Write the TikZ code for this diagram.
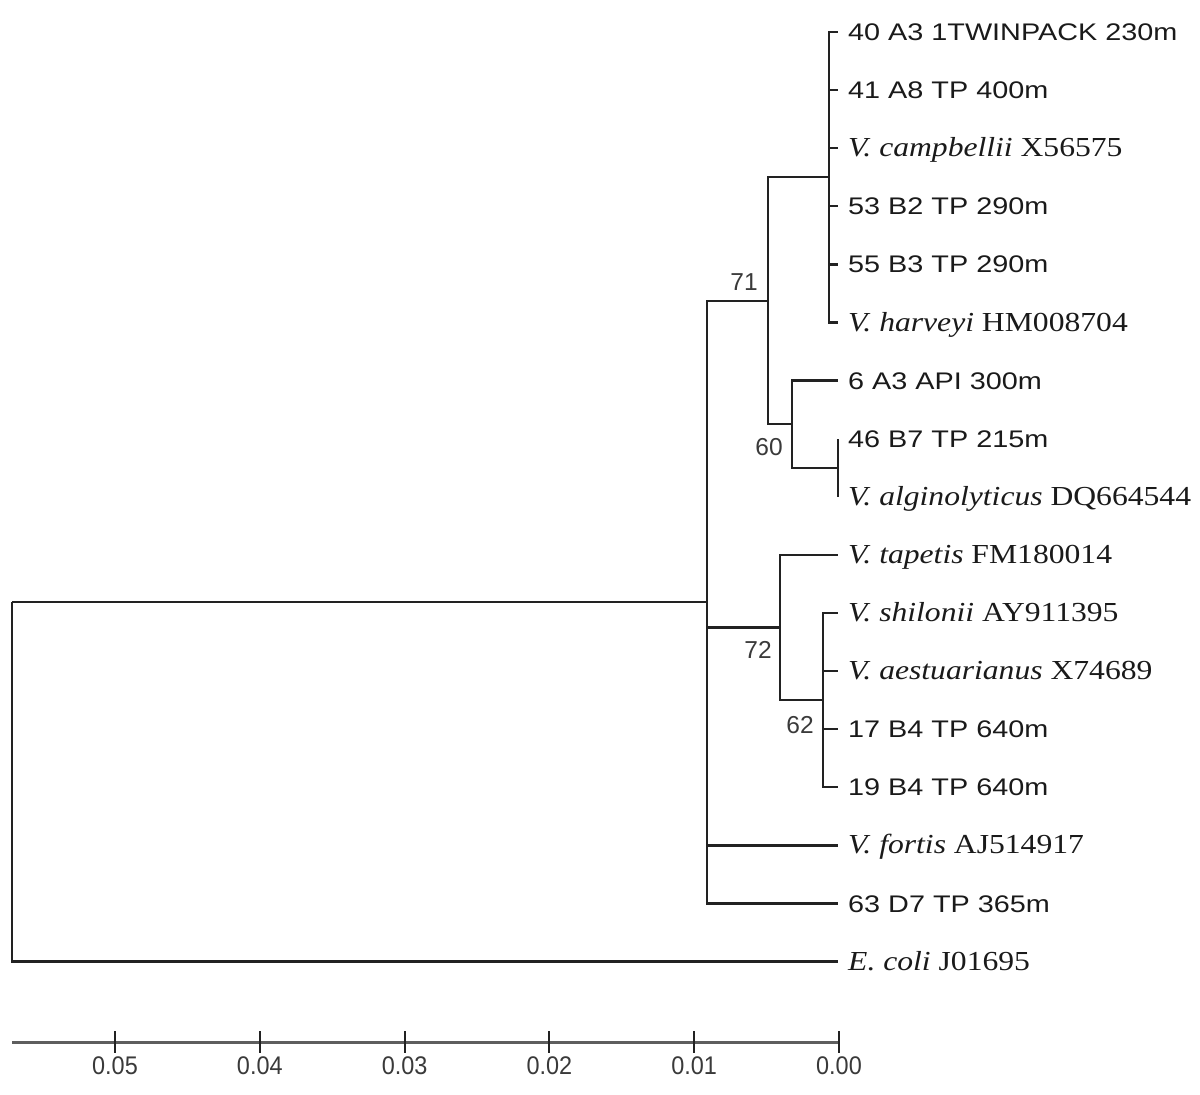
\documentclass[tikz,border=0pt]{standalone}
\usepackage{fontspec}
\usepackage{graphicx}
\setmainfont{Liberation Serif}
\newfontfamily\sansf{Liberation Sans}
\newfontfamily\seriff{Liberation Serif}
\definecolor{treeline}{HTML}{222222}
\definecolor{labcol}{HTML}{1A1A1A}
\definecolor{axiscol}{HTML}{5E5E5E}
\definecolor{axtext}{HTML}{3A3A3A}
\newcommand{\leafS}[1]{\scalebox{1.2}[1]{\sansf\fontsize{24}{28}\selectfont #1}}
\newcommand{\leafV}[2]{\scalebox{1.15}[1]{\seriff\fontsize{27.5}{32}\selectfont\textit{#1} #2}}
\begin{document}
\begin{tikzpicture}[x=1pt,y=-1pt,
  branch/.style={draw=treeline, line width=2.3pt, line join=miter},
  leaflab/.style={anchor=base west, inner sep=0pt, text=labcol},
  bootlab/.style={inner sep=0pt, text=axtext, font=\sansf\fontsize{24.5}{28}\selectfont},
  axisline/.style={draw=axiscol, line width=3pt},
  axislab/.style={inner sep=0pt, text=axtext, font=\sansf\fontsize{25.5}{28}\selectfont}]
\useasboundingbox (0,0) rectangle (1200,1095);
\fill[white] (0,0) rectangle (1200,1095);

% leaf tips
\foreach \i/\yy in {1/32,2/90.1,3/148.2,4/206.3,5/264.4,6/322.5,7/380.6,8/438.7,9/496.8,10/554.9,11/613,12/671.1,13/729.2,14/787.3,15/845.4,16/903.5,17/961.6}{
  \coordinate (t\i) at (838,\yy);
}

% leaf labels (baseline = tip y + 8.5)
\node[leaflab] (l1)  at (848,40.5)  {\leafS{40 A3 1TWINPACK 230m}};
\node[leaflab] (l2)  at (848,98.6)  {\leafS{41 A8 TP 400m}};
\node[leaflab] (l3)  at (848,156.7) {\leafV{V. campbellii}{X56575}};
\node[leaflab] (l4)  at (848,214.8) {\leafS{53 B2 TP 290m}};
\node[leaflab] (l5)  at (848,272.9) {\leafS{55 B3 TP 290m}};
\node[leaflab] (l6)  at (848,331)   {\leafV{V. harveyi}{HM008704}};
\node[leaflab] (l7)  at (848,389.1) {\leafS{6 A3 API 300m}};
\node[leaflab] (l8)  at (848,447.2) {\leafS{46 B7 TP 215m}};
\node[leaflab] (l9)  at (848,505.3) {\leafV{V. alginolyticus}{DQ664544}};
\node[leaflab] (l10) at (848,563.4) {\leafV{V. tapetis}{FM180014}};
\node[leaflab] (l11) at (848,621.5) {\leafV{V. shilonii}{AY911395}};
\node[leaflab] (l12) at (848,679.6) {\leafV{V. aestuarianus}{X74689}};
\node[leaflab] (l13) at (848,737.7) {\leafS{17 B4 TP 640m}};
\node[leaflab] (l14) at (848,795.8) {\leafS{19 B4 TP 640m}};
\node[leaflab] (l15) at (848,853.9) {\leafV{V. fortis}{AJ514917}};
\node[leaflab] (l16) at (848,912)   {\leafS{63 D7 TP 365m}};
\node[leaflab] (l17) at (848,970.1) {\leafV{E. coli}{J01695}};

% internal nodes
\coordinate (cA)   at (829,177.2);
\coordinate (cB)   at (838,467.7);
\coordinate (n60)  at (792,424.2);
\coordinate (n71)  at (768,300.7);
\coordinate (c62)  at (823,700.2);
\coordinate (n72)  at (780,627.5);
\coordinate (nin)  at (707,602.1);
\coordinate (root) at (12,602.1);

% branches
\foreach \i in {1,...,6}{ \draw[branch] (cA) |- (t\i); }
\draw[branch] (n71) |- (cA);
\draw[branch] (n71) |- (n60);
\draw[branch] (n60) |- (t7);
\draw[branch] (n60) |- (cB);
\draw[branch] (cB) |- (t8);
\draw[branch] (cB) |- (t9);
\foreach \i in {11,...,14}{ \draw[branch] (c62) |- (t\i); }
\draw[branch] (n72) |- (t10);
\draw[branch] (n72) |- (c62);
\draw[branch] (nin) |- (n71);
\draw[branch] (nin) |- (n72);
\draw[branch] (nin) |- (t15);
\draw[branch] (nin) |- (t16);
\draw[branch] (root) |- (nin);
\draw[branch] (root) |- (t17);

% bootstrap values
\node[bootlab] (b71) at (744,282) {71};
\node[bootlab] (b60) at (769,447) {60};
\node[bootlab] (b72) at (758,650) {72};
\node[bootlab] (b62) at (800,725) {62};

% scale axis
\coordinate (axL) at (12,1042);
\coordinate (axR) at (839,1042);
\draw[axisline] (axL) -- (axR);
\foreach \k/\lab in {0/0.00,1/0.01,2/0.02,3/0.03,4/0.04,5/0.05}{
  \coordinate (tk\k a) at ({839-144.8*\k},1031);
  \coordinate (tk\k b) at ({839-144.8*\k},1053);
  \draw[draw=treeline, line width=2pt] (tk\k a) -- (tk\k b);
  \node[axislab] (ax\k) at ({839-144.8*\k},1066) {\scalebox{0.92}[1]{\lab}};
}
\end{tikzpicture}
\end{document}
